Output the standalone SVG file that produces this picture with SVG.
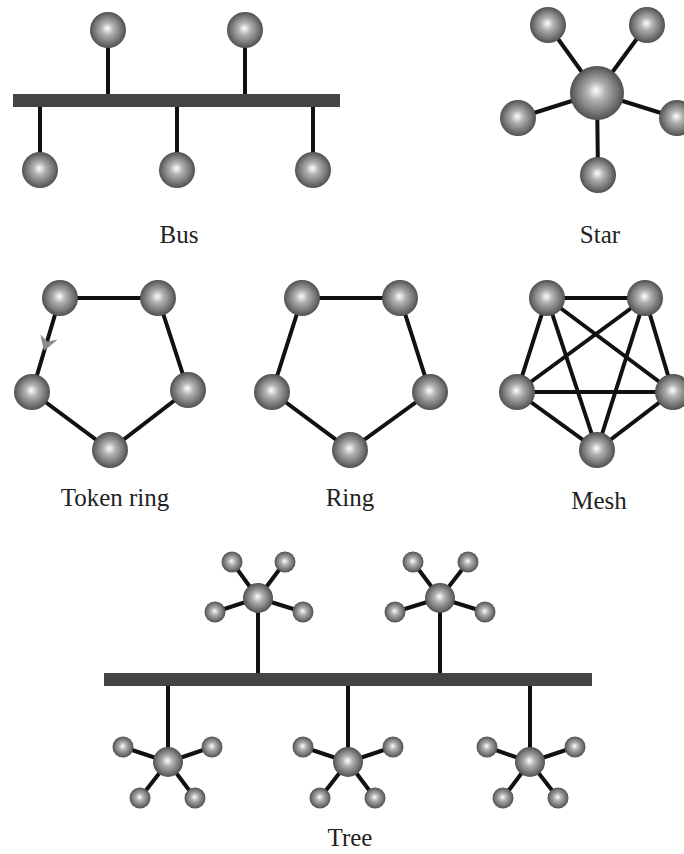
<svg xmlns="http://www.w3.org/2000/svg" width="684" height="854" viewBox="0 0 684 854">
<defs>
  <radialGradient id="sph" cx="50%" cy="50%" r="50%" fx="48%" fy="45%">
    <stop offset="0" stop-color="#ffffff"/>
    <stop offset="0.35" stop-color="#b0b0b0"/>
    <stop offset="0.75" stop-color="#777777"/>
    <stop offset="1" stop-color="#505050"/>
  </radialGradient>
</defs>
<style>
  .n { fill: url(#sph); }
  .e { stroke: #111; stroke-width: 4; fill: none; }
  .et { stroke: #111; stroke-width: 4; fill: none; }
  .bar { fill: #444; }
  .lbl { font-family: "Liberation Serif", "Times New Roman", serif; font-size: 25px; fill: #222; text-anchor: middle; }
</style>
<rect width="684" height="854" fill="#fff"/>

<!-- Connectors -->
<g id="connectors">
  <!-- Bus -->
  <rect class="bar" x="13" y="94" width="327" height="13"/>
  <line class="e" x1="108" y1="30" x2="108" y2="94"/>
  <line class="e" x1="245" y1="30" x2="245" y2="94"/>
  <line class="e" x1="40" y1="107" x2="40" y2="170"/>
  <line class="e" x1="177" y1="107" x2="177" y2="170"/>
  <line class="e" x1="313" y1="107" x2="313" y2="170"/>
  <!-- Star -->
  <line class="e" x1="597" y1="93" x2="548" y2="25"/>
  <line class="e" x1="597" y1="93" x2="647" y2="25"/>
  <line class="e" x1="597" y1="93" x2="518" y2="118"/>
  <line class="e" x1="597" y1="93" x2="677" y2="118"/>
  <line class="e" x1="597" y1="93" x2="598" y2="175"/>
  <!-- Token ring -->
  <polygon class="e" points="60,298 158,298 188,390 110,450 32,392"/>
  <path d="M44,351 L40.4,334.4 L47.6,341.4 L57.6,339.6 Z" fill="#8a8a8a"/>
  <!-- Ring -->
  <polygon class="e" points="302,298 400,298 430,392 350,450 272,392"/>
  <!-- Mesh -->
  <g class="e">
    <polygon points="547,298 645,298 673,392 597,450 517,392"/>
    <line x1="547" y1="298" x2="673" y2="392"/>
    <line x1="547" y1="298" x2="597" y2="450"/>
    <line x1="645" y1="298" x2="517" y2="392"/>
    <line x1="645" y1="298" x2="597" y2="450"/>
    <line x1="517" y1="392" x2="673" y2="392"/>
  </g>
  <!-- Tree -->
  <rect class="bar" x="104" y="673" width="488" height="13"/>
  <g class="et">
    <line x1="258" y1="598" x2="258" y2="673"/>
    <line x1="440" y1="598" x2="440" y2="673"/>
    <line x1="168" y1="686" x2="168" y2="762"/>
    <line x1="348" y1="686" x2="348" y2="762"/>
    <line x1="530" y1="686" x2="530" y2="762"/>
    <path d="M258,598 L232,562 M258,598 L285,562 M258,598 L215,612 M258,598 L303,612"/>
    <path d="M440,598 L413,562 M440,598 L468,562 M440,598 L395,612 M440,598 L485,612"/>
    <path d="M168,762 L123,747 M168,762 L212,747 M168,762 L140,798 M168,762 L195,798"/>
    <path d="M348,762 L303,747 M348,762 L393,747 M348,762 L320,798 M348,762 L375,798"/>
    <path d="M530,762 L487,747 M530,762 L575,747 M530,762 L503,798 M530,762 L558,798"/>
  </g>
</g>

<!-- Bus nodes -->
<g id="bus">
  <circle class="n" cx="108" cy="30" r="18"/>
  <circle class="n" cx="245" cy="30" r="18"/>
  <circle class="n" cx="40" cy="170" r="18"/>
  <circle class="n" cx="177" cy="170" r="18"/>
  <circle class="n" cx="313" cy="170" r="18"/>
</g>
<g id="star">
  <circle class="n" cx="597" cy="93" r="27"/>
  <circle class="n" cx="548" cy="25" r="18"/>
  <circle class="n" cx="647" cy="25" r="18"/>
  <circle class="n" cx="518" cy="118" r="18"/>
  <circle class="n" cx="677" cy="118" r="18"/>
  <circle class="n" cx="598" cy="175" r="18"/>
</g>
<g id="token-ring">
  <circle class="n" cx="60" cy="298" r="18"/>
  <circle class="n" cx="158" cy="298" r="18"/>
  <circle class="n" cx="188" cy="390" r="18"/>
  <circle class="n" cx="110" cy="450" r="18"/>
  <circle class="n" cx="32" cy="392" r="18"/>
</g>
<g id="ring">
  <circle class="n" cx="302" cy="298" r="18"/>
  <circle class="n" cx="400" cy="298" r="18"/>
  <circle class="n" cx="430" cy="392" r="18"/>
  <circle class="n" cx="350" cy="450" r="18"/>
  <circle class="n" cx="272" cy="392" r="18"/>
</g>
<g id="mesh">
  <circle class="n" cx="547" cy="298" r="18"/>
  <circle class="n" cx="645" cy="298" r="18"/>
  <circle class="n" cx="673" cy="392" r="18"/>
  <circle class="n" cx="597" cy="450" r="18"/>
  <circle class="n" cx="517" cy="392" r="18"/>
</g>
<g id="tree">
  <circle class="n" cx="258" cy="598" r="15"/>
  <circle class="n" cx="232" cy="562" r="10.5"/>
  <circle class="n" cx="285" cy="562" r="10.5"/>
  <circle class="n" cx="215" cy="612" r="10.5"/>
  <circle class="n" cx="303" cy="612" r="10.5"/>
  <circle class="n" cx="440" cy="598" r="15"/>
  <circle class="n" cx="413" cy="562" r="10.5"/>
  <circle class="n" cx="468" cy="562" r="10.5"/>
  <circle class="n" cx="395" cy="612" r="10.5"/>
  <circle class="n" cx="485" cy="612" r="10.5"/>
  <circle class="n" cx="168" cy="762" r="15"/>
  <circle class="n" cx="123" cy="747" r="10.5"/>
  <circle class="n" cx="212" cy="747" r="10.5"/>
  <circle class="n" cx="140" cy="798" r="10.5"/>
  <circle class="n" cx="195" cy="798" r="10.5"/>
  <circle class="n" cx="348" cy="762" r="15"/>
  <circle class="n" cx="303" cy="747" r="10.5"/>
  <circle class="n" cx="393" cy="747" r="10.5"/>
  <circle class="n" cx="320" cy="798" r="10.5"/>
  <circle class="n" cx="375" cy="798" r="10.5"/>
  <circle class="n" cx="530" cy="762" r="15"/>
  <circle class="n" cx="487" cy="747" r="10.5"/>
  <circle class="n" cx="575" cy="747" r="10.5"/>
  <circle class="n" cx="503" cy="798" r="10.5"/>
  <circle class="n" cx="558" cy="798" r="10.5"/>
</g>

<g id="labels">
  <text class="lbl" x="179" y="243">Bus</text>
  <text class="lbl" x="600" y="243">Star</text>
  <text class="lbl" x="115" y="506">Token ring</text>
  <text class="lbl" x="350" y="506">Ring</text>
  <text class="lbl" x="599" y="509">Mesh</text>
  <text class="lbl" x="350" y="846">Tree</text>
</g>
</svg>
